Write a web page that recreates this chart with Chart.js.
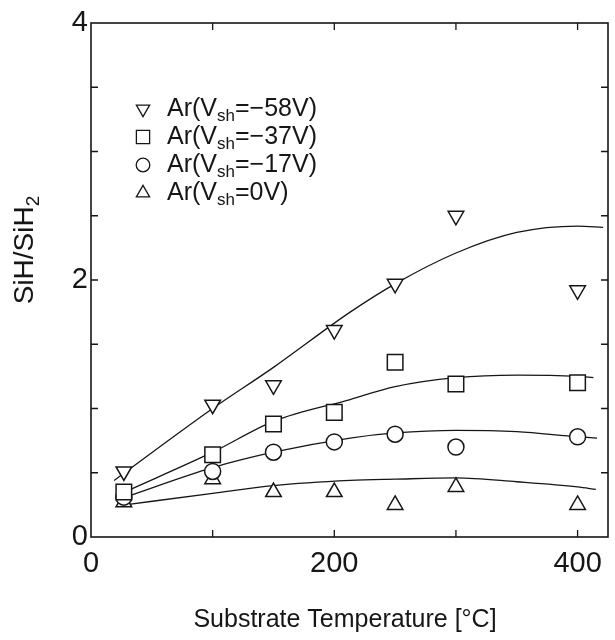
<!DOCTYPE html>
<html lang="en">
<head>
    <meta charset="UTF-8">
    <title>SiH/SiH2 vs Substrate Temperature</title>
    <script src="https://cdn.jsdelivr.net/npm/chart.js"></script>
    <style>
        body {
            margin: 0;
            background-color: #fff;
        }
        #wrap {
            width: 615px;
            height: 640px;
        }
    </style>
</head>
<body>
    <div id="wrap"><canvas id="chart" width="615" height="640"></canvas></div>

    <script>
        // measured points
        const temps = [27, 100, 150, 200, 250, 300, 400];
        const v58 = [0.51, 1.03, 1.18, 1.61, 1.97, 2.50, 1.92];
        const v37 = [0.35, 0.64, 0.88, 0.97, 1.36, 1.19, 1.20];
        const v17 = [0.31, 0.51, 0.66, 0.74, 0.80, 0.70, 0.78];
        const v0 = [0.27, 0.45, 0.35, 0.35, 0.25, 0.39, 0.25];

        // fitted curves
        const fit58X = [19, 100, 150, 213, 250, 300, 350, 400, 421];
        const fit58 = [0.44, 1.00, 1.32, 1.75, 1.97, 2.21, 2.37, 2.42, 2.41];
        const fit37X = [30, 100, 150, 213, 250, 300, 350, 400, 413];
        const fit37 = [0.36, 0.66, 0.90, 1.07, 1.17, 1.24, 1.26, 1.25, 1.24];
        const fit17X = [28, 100, 150, 213, 250, 300, 350, 400, 416];
        const fit17 = [0.31, 0.54, 0.66, 0.77, 0.81, 0.83, 0.82, 0.78, 0.77];
        const fit0X = [28, 100, 150, 213, 250, 300, 350, 400, 415];
        const fit0 = [0.25, 0.34, 0.40, 0.44, 0.45, 0.46, 0.43, 0.39, 0.37];

        const xTicks = [0, 200, 400];
        const yTicks = [0, 2, 4];
        const xMinor = [100, 200, 300, 400];
        const yMinor = [0.5, 1, 1.5, 2, 2.5, 3, 3.5];

        const seriesLabels = [
            ['Ar(V', 'sh', '=\u221258V)'],
            ['Ar(V', 'sh', '=\u221237V)'],
            ['Ar(V', 'sh', '=\u221217V)'],
            ['Ar(V', 'sh', '=0V)']
        ];

        const ink = '#161616';
        const fontFam = '"Liberation Sans", Arial, sans-serif';

        const toXY = (xs, ys) => xs.map((x, i) => ({ x: x, y: ys[i] }));

        function fitSet(xs, ys) {
            return {
                data: toXY(xs, ys),
                showLine: true,
                borderColor: ink,
                borderWidth: 1.3,
                pointRadius: 0,
                cubicInterpolationMode: 'monotone',
                order: 2
            };
        }

        function pointSet(ys, style, radius, rotation) {
            return {
                data: toXY(temps, ys),
                showLine: false,
                pointStyle: style,
                pointRadius: radius,
                pointRotation: rotation,
                pointBorderColor: ink,
                pointBackgroundColor: '#fff',
                pointBorderWidth: 1.5,
                order: 1
            };
        }

        const markerSets = [
            pointSet(v58, 'triangle', 9, 180),
            pointSet(v37, 'rect', 11, 0),
            pointSet(v17, 'circle', 8, 0),
            pointSet(v0, 'triangle', 9, 0)
        ];

        // draws text with a subscript part, starting at x
        function richText(ctx, parts, x, y, size, subSize) {
            let cx = x;
            parts.forEach((p, i) => {
                const isSub = i === 1;
                ctx.font = (isSub ? subSize : size) + 'px ' + fontFam;
                ctx.fillText(p, cx, isSub ? y + size * 0.3 : y);
                cx += ctx.measureText(p).width;
            });
            return cx - x;
        }

        function richWidth(ctx, parts, size, subSize) {
            let w = 0;
            parts.forEach((p, i) => {
                ctx.font = (i === 1 ? subSize : size) + 'px ' + fontFam;
                w += ctx.measureText(p).width;
            });
            return w;
        }

        const decor = {
            id: 'decor',
            afterDatasetsDraw(chart) {
                const ctx = chart.ctx;
                const a = chart.chartArea;
                const xs = chart.scales.x, ys = chart.scales.y;
                ctx.save();
                ctx.strokeStyle = ink;
                ctx.lineWidth = 1.6;
                ctx.strokeRect(a.left, a.top, a.right - a.left, a.bottom - a.top);
                ctx.lineWidth = 1.3;
                ctx.beginPath();
                xMinor.forEach(v => {
                    const px = xs.getPixelForValue(v);
                    ctx.moveTo(px, a.bottom); ctx.lineTo(px, a.bottom - 7);
                    ctx.moveTo(px, a.top); ctx.lineTo(px, a.top + 7);
                });
                yMinor.forEach(v => {
                    const py = ys.getPixelForValue(v);
                    ctx.moveTo(a.left, py); ctx.lineTo(a.left + 7, py);
                    ctx.moveTo(a.right, py); ctx.lineTo(a.right - 7, py);
                });
                ctx.stroke();
                ctx.restore();
            },
            afterDraw(chart) {
                const ctx = chart.ctx;
                ctx.save();
                ctx.strokeStyle = ink;
                ctx.textBaseline = 'middle';

                // legend
                const rows = [109, 137, 165, 193];
                markerSets.forEach((ds, i) => {
                    ctx.fillStyle = '#fff';
                    ctx.lineWidth = 1.3;
                    Chart.helpers.drawPoint(ctx, {
                        pointStyle: ds.pointStyle,
                        radius: ds.pointRadius * 0.85,
                        rotation: ds.pointRotation,
                        borderWidth: 1.3
                    }, 143, rows[i]);
                    ctx.fillStyle = ink;
                    richText(ctx, seriesLabels[i], 167, rows[i], 25, 17);
                });

                // x title
                ctx.fillStyle = ink;
                ctx.font = '25px ' + fontFam;
                ctx.textAlign = 'center';
                ctx.fillText('Substrate Temperature [\u00B0C]', 345, 620);

                // y title
                ctx.textAlign = 'left';
                const yParts = ['SiH/SiH', '2'];
                const w = richWidth(ctx, yParts, 28, 19);
                ctx.translate(25, 250);
                ctx.rotate(-Math.PI / 2);
                richText(ctx, yParts, -w / 2, 0, 28, 19);
                ctx.restore();
            }
        };

        new Chart(document.getElementById('chart').getContext('2d'), {
            type: 'scatter',
            data: {
                datasets: [
                    fitSet(fit58X, fit58),
                    fitSet(fit37X, fit37),
                    fitSet(fit17X, fit17),
                    fitSet(fit0X, fit0),
                    ...markerSets
                ]
            },
            options: {
                responsive: false,
                animation: false,
                layout: {
                    autoPadding: false, // big markers would otherwise push the right edge in
                    padding: { left: 0, top: 23, right: 7, bottom: 0 }
                },
                plugins: { legend: { display: false }, tooltip: { enabled: false } },
                scales: {
                    x: {
                        type: 'linear',
                        min: 0,
                        max: 425,
                        afterBuildTicks: s => { s.ticks = xTicks.map(v => ({ value: v })); },
                        afterFit: s => {
                            s.height = 103;
                            s.paddingLeft = 0;
                            s.paddingRight = 0;
                        },
                        grid: { display: false, drawTicks: false },
                        border: { display: false },
                        ticks: {
                            padding: 10,
                            color: ink,
                            font: { family: fontFam, size: 29 },
                            maxRotation: 0
                        }
                    },
                    y: {
                        type: 'linear',
                        min: 0,
                        max: 4,
                        afterBuildTicks: s => { s.ticks = yTicks.map(v => ({ value: v })); },
                        afterFit: s => {
                            s.width = 91;
                            s.paddingTop = 0;
                            s.paddingBottom = 0;
                        },
                        grid: { display: false, drawTicks: false },
                        border: { display: false },
                        ticks: {
                            padding: 3,
                            color: ink,
                            font: { family: fontFam, size: 29 }
                        }
                    }
                }
            },
            plugins: [decor]
        });
    </script>
</body>
</html>
